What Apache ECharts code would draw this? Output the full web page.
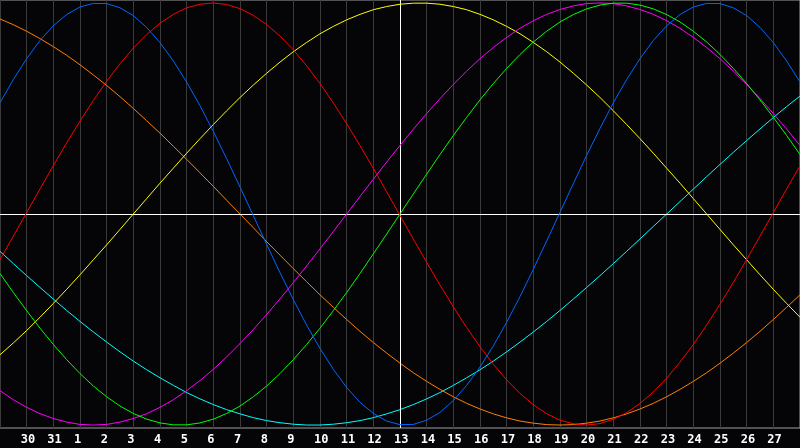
<!DOCTYPE html>
<html>
<head>
<meta charset="utf-8">
<script src="https://cdn.jsdelivr.net/npm/echarts@6/dist/echarts.min.js"></script>
<style>
html,body{margin:0;padding:0;background:#050508;}
#chart{width:800px;height:448px;}
</style>
</head>
<body>
<div id="chart"></div>
<script>
// Day tick labels (index 0 = left edge, index 30 = right edge)
var dayLabels = ['', '30', '31', '1', '2', '3', '4', '5', '6', '7', '8', '9', '10', '11', '12', '13', '14', '15', '16', '17', '18', '19', '20', '21', '22', '23', '24', '25', '26', '27', ''];
var todayIndex = 15;

// Sample positions (days from left edge, half-day steps)
var days = [0,0.5,1,1.5,2,2.5,3,3.5,4,4.5,5,5.5,6,6.5,7,7.5,8,8.5,9,9.5,10,10.5,11,11.5,12,12.5,13,13.5,14,14.5,15,15.5,16,16.5,17,17.5,18,18.5,19,19.5,20,20.5,21,21.5,22,22.5,23,23.5,24,24.5,25,25.5,26,26.5,27,27.5,28,28.5,29,29.5,30];

// Series values (percent)
var physical = [52.7,63.7,73.6,82.2,89.2,94.5,98.1,99.8,99.7,97.7,94.0,88.4,81.2,72.5,62.5,51.3,39.1,26.2,12.8,-0.8,-14.4,-27.8,-40.6,-52.7,-63.7,-73.6,-82.2,-89.2,-94.5,-98.1,-99.8,-99.7,-97.7,-94.0,-88.4,-81.2,-72.5,-62.5,-51.3,-39.1,-26.2,-12.8,0.8,14.4,27.8,40.6,52.7,63.7,73.6,82.2,89.2,94.5,98.1,99.8,99.7,97.7,94.0,88.4,81.2,72.5,62.5];
var emotional = [-21.6,-10.5,0.7,11.9,22.9,33.7,44.0,53.8,62.9,71.2,78.6,85.0,90.4,94.6,97.7,99.4,100.0,99.3,97.3,94.1,89.8,84.3,77.8,70.2,61.8,52.6,42.8,32.4,21.6,10.5,-0.7,-11.9,-22.9,-33.7,-44.0,-53.8,-62.9,-71.2,-78.6,-85.0,-90.4,-94.6,-97.7,-99.4,-100.0,-99.3,-97.3,-94.1,-89.8,-84.3,-77.8,-70.2,-61.8,-52.6,-42.8,-32.4,-21.6,-10.5,0.7,11.9,22.9];
var intellectual = [-28.2,-37.2,-45.8,-54.1,-61.8,-69.0,-75.6,-81.5,-86.6,-91.0,-94.5,-97.2,-99.0,-99.9,-99.9,-99.0,-97.2,-94.5,-91.0,-86.6,-81.5,-75.6,-69.0,-61.8,-54.1,-45.8,-37.2,-28.2,-18.9,-9.5,0,9.5,18.9,28.2,37.2,45.8,54.1,61.8,69.0,75.6,81.5,86.6,91.0,94.5,97.2,99.0,99.9,99.9,99.0,97.2,94.5,91.0,86.6,81.5,75.6,69.0,61.8,54.1,45.8,37.2,28.2];
var intuitive = [-83.7,-88.0,-91.6,-94.6,-96.9,-98.6,-99.7,-100,-99.7,-98.6,-96.9,-94.6,-91.6,-88.0,-83.7,-78.9,-73.6,-67.7,-61.4,-54.7,-47.6,-40.2,-32.5,-24.6,-16.5,-8.3,0,8.3,16.5,24.6,32.5,40.2,47.6,54.7,61.4,67.7,73.6,78.9,83.7,88.0,91.6,94.6,96.9,98.6,99.7,100,99.7,98.6,96.9,94.6,91.6,88.0,83.7,78.9,73.6,67.7,61.4,54.7,47.6,40.2,32.5];
var aesthetic = [-66.7,-61.1,-55.2,-48.9,-42.4,-35.7,-28.8,-21.7,-14.6,-7.3,0,7.3,14.6,21.7,28.8,35.7,42.4,48.9,55.2,61.1,66.7,72.0,76.9,81.3,85.4,88.9,92.0,94.6,96.8,98.3,99.4,99.9,99.9,99.4,98.3,96.8,94.6,92.0,88.9,85.4,81.3,76.9,72.0,66.7,61.1,55.2,48.9,42.4,35.7,28.8,21.7,14.6,7.3,0,-7.3,-14.6,-21.7,-28.8,-35.7,-42.4,-48.9];
var awareness = [92.4,89.7,86.6,83.1,79.3,75.2,70.7,65.9,60.9,55.6,50.0,44.2,38.3,32.1,25.9,19.5,13.1,6.5,0,-6.5,-13.1,-19.5,-25.9,-32.1,-38.3,-44.2,-50.0,-55.6,-60.9,-65.9,-70.7,-75.2,-79.3,-83.1,-86.6,-89.7,-92.4,-94.7,-96.6,-98.1,-99.1,-99.8,-100,-99.8,-99.1,-98.1,-96.6,-94.7,-92.4,-89.7,-86.6,-83.1,-79.3,-75.2,-70.7,-65.9,-60.9,-55.6,-50.0,-44.2,-38.3];
var spiritual = [-17.7,-23.5,-29.2,-34.8,-40.3,-45.7,-50.9,-55.9,-60.7,-65.3,-69.7,-73.8,-77.6,-81.2,-84.6,-87.6,-90.3,-92.7,-94.7,-96.5,-97.9,-98.9,-99.6,-100.0,-100.0,-99.6,-98.9,-97.9,-96.5,-94.7,-92.7,-90.3,-87.6,-84.6,-81.2,-77.6,-73.8,-69.7,-65.3,-60.7,-55.9,-50.9,-45.7,-40.3,-34.8,-29.2,-23.5,-17.7,-11.8,-5.9,0,5.9,11.8,17.7,23.5,29.2,34.8,40.3,45.7,50.9,55.9];

var seriesDefs = [
  {name:'Spiritual', data:spiritual, color:'#00ffff'},
  {name:'Awareness', data:awareness, color:'#ff8000'},
  {name:'Aesthetic', data:aesthetic, color:'#ffff00'},
  {name:'Intuitive', data:intuitive, color:'#ff00ff'},
  {name:'Intellectual', data:intellectual, color:'#00ff00'},
  {name:'Emotional', data:emotional, color:'#ff0000'},
  {name:'Physical', data:physical, color:'#0066ff'}
];

function pairs(arr){ return arr.map(function(v,i){ return [days[i], v]; }); }

var series = seriesDefs.map(function(s, k){
  return {
    name: s.name, type:'line', xAxisIndex:0, yAxisIndex:0,
    data: pairs(s.data), smooth: false, symbol:'none', silent:true,
    lineStyle:{color:s.color, width:1}, z: 3 + k
  };
});
// reference lines (today & zero)
series.push({
  type:'line', xAxisIndex:0, yAxisIndex:0, data:[], silent:true, z:2,
  markLine:{
    silent:true, symbol:['none','none'], label:{show:false},
    lineStyle:{color:'#ffffff', width:1, type:'solid'},
    data:[{xAxis: todayIndex}, {yAxis: 0}]
  }
});

var chart = echarts.init(document.getElementById('chart'), null, {renderer:'canvas'});
chart.setOption({
  animation:false,
  backgroundColor:'#050508',
  grid:[
    {left:0, right:0, top:0, bottom:20, show:true, borderColor:'#a0a0a0', borderWidth:1,
     backgroundColor:'transparent', containLabel:false, outerBoundsMode:'none'},
    {left:-6, right:6, top:0, bottom:20, show:false, containLabel:false, outerBoundsMode:'none'}
  ],
  xAxis:[
    {type:'value', gridIndex:0, min:0, max:30, interval:1,
     axisLine:{show:false}, axisTick:{show:false}, axisLabel:{show:false},
     splitLine:{show:true, lineStyle:{color:'#3a3a3a', width:1}}},
    {type:'category', gridIndex:1, data:dayLabels, boundaryGap:false,
     axisLine:{show:false}, axisTick:{show:false}, splitLine:{show:false},
     axisLabel:{show:true, interval:0, align:'left', margin:6, color:'#ffffff',
       fontFamily:'DejaVu Sans Mono', fontWeight:'bold', fontSize:12}}
  ],
  yAxis:[
    {type:'value', gridIndex:0, min:-101.4, max:101.4, show:false, splitLine:{show:false}},
    {type:'value', gridIndex:1, show:false}
  ],
  series: series
});
</script>
</body>
</html>
